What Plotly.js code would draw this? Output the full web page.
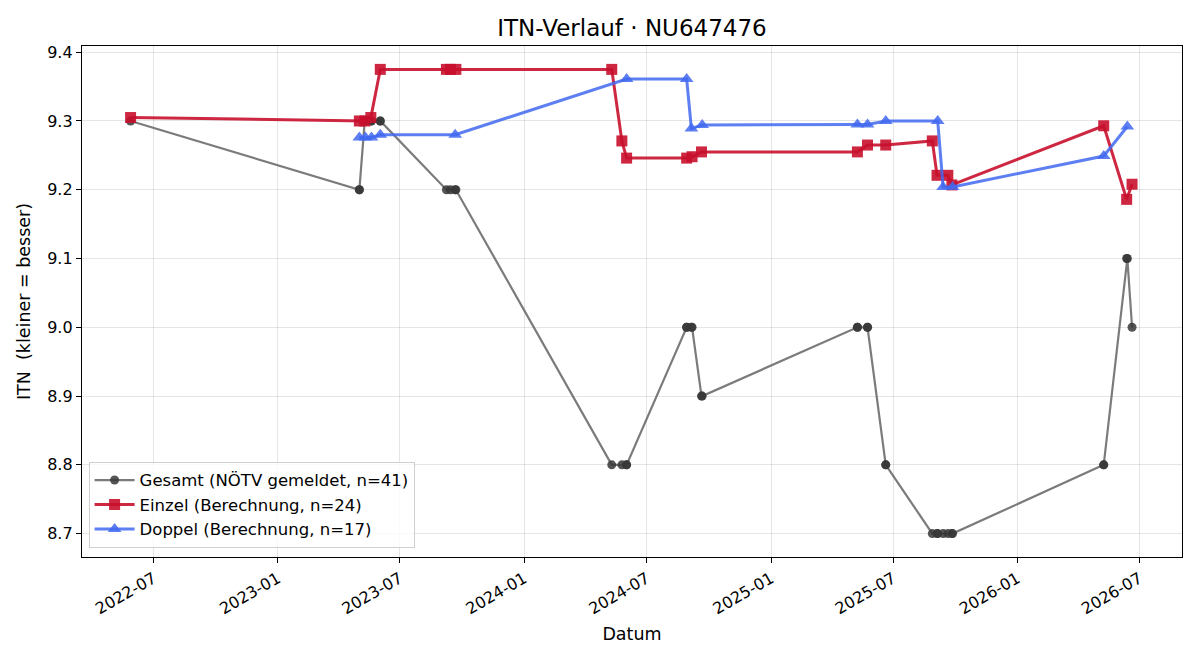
<!DOCTYPE html>
<html>
<head>
<meta charset="utf-8">
<script src="https://cdn.plot.ly/plotly-3.0.1.min.js"></script>
<style>
  html, body { margin: 0; padding: 0; background: #fff; }
  #chart { width: 1200px; height: 660px; }
</style>
</head>
<body>
<div id="chart"></div>
<script>
// ITN history for player NU647476

// Overall rating as reported by NÖTV (one entry per match)
const gesamtDates = [
  '2022-05-28',
  '2023-05-02', '2023-05-02', '2023-05-10', '2023-05-11', '2023-05-19', '2023-05-20', '2023-06-02', '2023-06-02',
  '2023-09-08', '2023-09-14', '2023-09-21', '2023-09-22',
  '2024-05-10', '2024-05-25', '2024-06-01', '2024-06-01',
  '2024-08-29', '2024-08-29', '2024-09-05', '2024-09-06', '2024-09-20', '2024-09-21',
  '2025-05-09', '2025-05-09', '2025-05-24', '2025-05-24', '2025-06-20', '2025-06-20',
  '2025-08-28', '2025-09-04', '2025-09-05', '2025-09-13', '2025-09-20', '2025-09-26', '2025-09-27',
  '2026-05-09', '2026-05-09', '2026-06-12', '2026-06-13', '2026-06-20'
];
const gesamtITN = [
  9.3,
  9.2, 9.2, 9.3, 9.3, 9.3, 9.3, 9.3, 9.3,
  9.2, 9.2, 9.2, 9.2,
  8.8, 8.8, 8.8, 8.8,
  9.0, 9.0, 9.0, 9.0, 8.9, 8.9,
  9.0, 9.0, 9.0, 9.0, 8.8, 8.8,
  8.7, 8.7, 8.7, 8.7, 8.7, 8.7, 8.7,
  8.8, 8.8, 9.1, 9.1, 9.0
];

// Singles rating (own calculation)
const einzelDates = [
  '2022-05-28', '2023-05-02', '2023-05-10', '2023-05-19', '2023-06-02',
  '2023-09-08', '2023-09-14', '2023-09-22', '2024-05-10', '2024-05-25',
  '2024-06-01', '2024-08-29', '2024-09-06', '2024-09-20', '2025-05-09',
  '2025-05-24', '2025-06-20', '2025-08-28', '2025-09-04', '2025-09-20',
  '2025-09-26', '2026-05-09', '2026-06-12', '2026-06-20'
];
const einzelITN = [
  9.305, 9.300, 9.300, 9.305, 9.375,
  9.375, 9.375, 9.375, 9.375, 9.271,
  9.246, 9.246, 9.248, 9.255, 9.255,
  9.265, 9.265, 9.271, 9.221, 9.221,
  9.207, 9.293, 9.186, 9.208
];

// Doubles rating (own calculation)
const doppelDates = [
  '2023-05-02', '2023-05-11', '2023-05-20', '2023-06-02', '2023-09-21',
  '2024-06-01', '2024-08-29', '2024-09-05', '2024-09-21', '2025-05-09',
  '2025-05-24', '2025-06-20', '2025-09-05', '2025-09-13', '2025-09-27',
  '2026-05-09', '2026-06-13'
];
const doppelITN = [
  9.276, 9.276, 9.276, 9.280, 9.280,
  9.361, 9.361, 9.289, 9.294, 9.295,
  9.295, 9.300, 9.300, 9.204, 9.204,
  9.249, 9.292
];

const yTicks = [8.7, 8.8, 8.9, 9.0, 9.1, 9.2, 9.3, 9.4];

const FONT = 'DejaVu Sans, sans-serif';

const traces = [
  {
    type: 'scatter', mode: 'lines+markers',
    name: 'Gesamt (NÖTV gemeldet, n=' + gesamtITN.length + ')',
    x: gesamtDates, y: gesamtITN,
    line: { color: 'rgba(90,90,90,0.8)', width: 2.2 },
    marker: { symbol: 'circle', size: 9, color: 'rgba(55,55,55,0.85)', line: { width: 0 } }
  },
  {
    type: 'scatter', mode: 'lines+markers',
    name: 'Einzel (Berechnung, n=' + einzelITN.length + ')',
    x: einzelDates, y: einzelITN,
    line: { color: 'rgba(200,16,46,0.9)', width: 3 },
    marker: { symbol: 'square', size: 11, color: 'rgba(200,16,46,0.9)', line: { width: 0 } }
  },
  {
    type: 'scatter', mode: 'lines+markers',
    name: 'Doppel (Berechnung, n=' + doppelITN.length + ')',
    x: doppelDates, y: doppelITN,
    line: { color: 'rgba(65,105,240,0.85)', width: 3 },
    marker: { symbol: 'triangle-up', size: 12, color: 'rgba(65,105,240,0.85)', line: { width: 0 } }
  }
];

const layout = {
  width: 1200, height: 660,
  paper_bgcolor: '#fff', plot_bgcolor: '#fff',
  font: { family: FONT, size: 16, color: '#000' },
  margin: { l: 82, r: 18, t: 46, b: 103 },
  title: {
    text: 'ITN-Verlauf · NU647476',
    font: { family: FONT, size: 23, color: '#000' },
    x: 0.5, xref: 'paper', xanchor: 'center',
    y: 1 - 28 / 660, yref: 'container', yanchor: 'middle'
  },
  xaxis: {
    type: 'date',
    range: ['2022-03-17', '2026-09-02'],
    tick0: '2022-07-01', dtick: 'M6', tickformat: '%Y-%m',
    tickangle: -30,
    ticks: 'outside', ticklen: 5, tickwidth: 1, tickcolor: '#000',
    showline: true, linecolor: '#000', linewidth: 1.2, mirror: true,
    showgrid: true, gridcolor: 'rgba(0,0,0,0.1)', gridwidth: 1,
    zeroline: false,
    tickfont: { family: FONT, size: 16, color: '#000' },
    title: { text: 'Datum', font: { family: FONT, size: 17.5, color: '#000' }, standoff: 10 }
  },
  yaxis: {
    range: [8.666, 9.409],
    tickvals: yTicks, tickformat: '.1f',
    ticks: 'outside', ticklen: 5, tickwidth: 1, tickcolor: '#000',
    showline: true, linecolor: '#000', linewidth: 1.2, mirror: true,
    showgrid: true, gridcolor: 'rgba(0,0,0,0.1)', gridwidth: 1,
    zeroline: false,
    tickfont: { family: FONT, size: 16, color: '#000' },
    title: { text: 'ITN\u00a0 (kleiner = besser)', font: { family: FONT, size: 17.5, color: '#000' }, standoff: 12 }
  },
  legend: {
    x: 0.006, y: 0.018, xanchor: 'left', yanchor: 'bottom',
    bgcolor: 'rgba(255,255,255,0.8)',
    bordercolor: '#d0d0d0', borderwidth: 1,
    font: { family: FONT, size: 16.5, color: '#000' },
    tracegroupgap: 0, itemwidth: 40
  },
  showlegend: true
};

Plotly.newPlot('chart', traces, layout, { displayModeBar: false, staticPlot: true });
</script>
</body>
</html>
